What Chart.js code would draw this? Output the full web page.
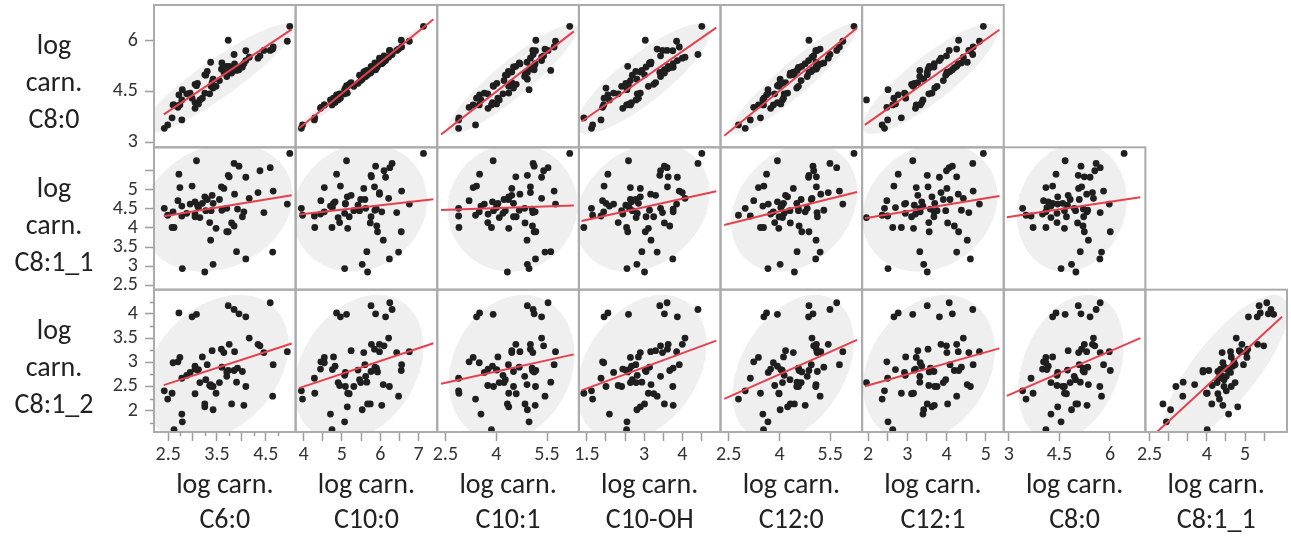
<!DOCTYPE html>
<html>
<head>
<meta charset="utf-8">
<script src="https://cdn.jsdelivr.net/npm/chart.js@4.4.1/dist/chart.umd.min.js"></script>
<style>
  html, body { margin: 0; padding: 0; background: #fff; }
  #wrap { width: 1291px; height: 544px; }
</style>
</head>
<body>
<div id="wrap"><canvas id="spm" width="1291" height="544"></canvas></div>
<script>
const FONT = 'Carlito, Lato, sans-serif';

// log carnitine values, one entry per sample (same order in every array)
const C8_0   = [6.42,4.67,5.59,5.71,5.14,5.55,4.40,5.06,5.24,5.41, 4.10,4.30,5.07,5.16,5.81,5.31,5.48,4.45,4.76,4.82,
                4.03,4.17,4.30,4.45,4.60,4.74,5.51,5.09,4.94,4.98, 5.21,5.34,5.98,5.71,5.32,4.25,4.13,4.10,3.41,3.51,
                3.66,4.00,4.43,4.65,4.25,4.43,4.71,5.04,5.22,5.20, 5.24,6.01,4.10,3.72,4.65,5.36,5.12,5.75,5.70,4.55,
                4.86,4.99];
const C8_1_1 = [5.94,5.75,5.68,5.57,5.61,5.49,5.40,5.37,5.33,5.32, 5.05,5.09,5.03,5.07,4.96,4.88,4.92,4.81,4.85,4.74,
                4.71,4.68,4.64,4.62,4.64,4.59,4.77,4.74,4.51,4.45, 4.49,4.46,4.62,4.40,4.42,4.57,4.53,4.42,4.51,4.33,
                4.31,4.36,4.38,4.45,4.27,4.14,4.29,4.13,4.29,4.05, 3.90,3.90,4.01,4.01,3.99,3.68,3.38,3.37,3.19,2.94,
                3.05,2.85];
const C8_1_2 = [null,3.99,4.09,4.23,4.00,3.34,4.02,4.17,3.37,3.94, 3.10,3.94,3.20,3.27,2.95,3.22,3.37,2.08,3.24,2.58,
                3.01,2.92,3.11,2.79,2.50,2.84,3.50,2.95,2.71,2.64, 2.88,2.90,3.22,3.20,2.11,1.93,2.85,2.99,2.41,2.24,
                2.67,2.86,2.73,2.50,2.58,2.52,2.35,2.14,2.81,2.83, 2.80,2.83,1.61,2.36,2.36,2.54,2.59,2.30,2.50,1.77,
                2.02,2.14];
const C6_0   = [4.99,3.08,3.85,4.59,3.95,4.38,2.72,3.73,3.75,4.09, 2.74,2.99,3.64,3.59,4.65,3.86,4.34,3.25,3.40,3.55,
                2.70,3.05,3.20,2.95,3.42,3.10,4.16,3.30,3.70,3.27, 3.92,3.60,4.94,4.46,4.05,2.78,3.12,2.60,2.42,2.49,
                2.78,3.05,2.88,3.38,3.15,3.35,3.05,3.80,4.02,3.85, 3.70,3.73,2.62,2.58,3.48,3.37,3.90,4.64,4.09,2.79,
                3.42,3.25];
const C10_0  = [7.13,5.12,6.31,6.25,5.88,6.10,4.86,5.76,5.77,6.14, 4.54,4.96,5.57,5.85,6.56,5.98,5.98,5.14,5.24,5.49,
                4.45,4.82,4.78,5.09,5.09,5.42,6.22,5.60,5.62,5.46, 5.90,5.86,6.76,6.43,6.04,4.70,4.75,4.54,3.94,3.97,
                4.28,4.44,5.07,5.31,4.90,4.94,5.19,5.74,5.76,5.91, 5.93,6.55,4.74,4.29,5.15,6.08,5.65,6.48,6.24,5.07,
                5.53,5.67];
const C10_1  = [6.17,3.91,5.09,5.53,5.12,5.40,3.51,4.92,4.58,5.34, 3.32,3.42,4.46,5.01,5.71,4.70,5.01,4.37,4.46,4.23,
                3.20,3.89,4.05,3.65,4.51,4.02,5.34,4.36,4.84,4.27, 5.06,4.68,5.75,5.08,5.15,3.55,4.01,3.50,2.89,3.39,
                2.89,3.76,4.20,3.92,4.09,3.75,4.59,4.85,4.51,5.07, 5.12,5.17,3.86,2.90,4.37,4.91,5.61,5.44,5.16,4.97,
                4.92,4.33];
const C10_OH = [4.51,2.59,4.41,3.60,3.53,3.43,2.05,3.41,3.63,3.87, 2.64,1.95,2.90,3.61,3.92,3.17,4.00,2.90,3.30,2.64,
                1.91,2.67,2.85,2.20,2.00,2.52,4.07,2.78,3.43,2.69, 3.76,3.14,3.85,3.48,3.76,2.09,2.61,1.94,1.62,1.65,
                1.87,2.44,2.82,2.41,2.79,2.32,3.25,3.53,3.05,3.67, 2.57,3.03,2.54,1.42,3.11,3.18,2.94,3.34,3.75,2.55,
                2.81,3.01];
const C12_0  = [6.20,3.94,5.49,5.69,4.99,5.01,3.62,4.87,5.09,4.86, 3.38,3.54,4.41,5.09,5.77,5.22,5.44,4.24,4.18,4.64,
                3.24,3.94,4.12,3.67,4.51,4.08,4.96,4.94,4.82,4.31, 4.56,5.31,5.87,5.11,4.76,3.51,4.04,3.82,2.99,2.79,
                3.14,3.74,4.14,4.56,4.09,3.86,3.99,4.32,5.12,4.58, 4.66,4.87,3.53,3.44,3.98,5.08,4.52,5.20,5.07,3.66,
                4.02,4.44];
const C12_1  = [4.94,3.14,4.67,4.07,4.15,4.00,2.77,3.51,4.26,3.82, 3.23,2.66,4.01,3.53,4.68,4.30,3.86,3.63,3.27,3.92,
                2.48,3.37,2.96,2.93,3.70,3.18,4.43,4.09,3.32,3.98, 3.59,4.38,4.84,4.57,3.69,3.40,2.70,3.33,2.42,2.36,
                2.50,3.21,2.95,3.76,1.96,3.55,3.11,4.03,3.68,4.20, 3.56,4.31,2.63,2.85,3.16,4.53,3.32,4.26,4.61,2.51,
                3.42,3.51];

const rowVars = ['C8:0', 'C8:1_1', 'C8:1_2'];
const colVars = ['C6:0', 'C10:0', 'C10:1', 'C10-OH', 'C12:0', 'C12:1', 'C8:0', 'C8:1_1'];
const values = {
  'C6:0': C6_0, 'C10:0': C10_0, 'C10:1': C10_1, 'C10-OH': C10_OH, 'C12:0': C12_0,
  'C12:1': C12_1, 'C8:0': C8_0, 'C8:1_1': C8_1_1, 'C8:1_2': C8_1_2
};

// axis ranges
const axisRange = {
  'C6:0': [2.21, 5.11], 'C10:0': [3.79, 7.49], 'C10:1': [2.26, 6.44], 'C10-OH': [1.29, 5.0],
  'C12:0': [2.26, 6.44], 'C12:1': [1.85, 5.46], 'C8:0': [2.85, 7.05], 'C8:1_1': [2.39, 6.1],
  'C8:1_2': [1.56, 4.5]
};
// tick marks per variable
const tickValues = {
  'C6:0': [2.5, 3, 3.5, 4, 4.5], 'C10:0': [4, 4.5, 5, 5.5, 6, 6.5, 7], 'C10:1': [2.5, 4, 5.5],
  'C10-OH': [1.5, 2, 2.5, 3, 3.5, 4, 4.5], 'C12:0': [2.5, 4, 5.5], 'C12:1': [2, 2.5, 3, 3.5, 4, 4.5, 5],
  'C8:0': [3, 4.5, 6], 'C8:1_1': [2.5, 3, 3.5, 4, 4.5, 5, 5.5], 'C8:1_2': [2, 2.5, 3, 3.5, 4]
};
const minorTicks = {
  'C6:0': [2.75, 3.25, 3.75, 4.25, 4.75],
  'C8:1_2': [1.75, 2.25, 2.75, 3.25, 3.75, 4.25]
};
// labelled ticks, bottom axes then left axes
const xTickLabels = [[2.5, 3.5, 4.5], [4, 5, 6, 7], [2.5, 4, 5.5], [1.5, 3, 4], [2.5, 4, 5.5], [2, 3, 4, 5], [3, 4.5, 6], [2.5, 4, 5]];
const yTickLabels = [[3, 4.5, 6], [2.5, 3, 3.5, 4, 4.5, 5], [2, 2.5, 3, 3.5, 4]];
// x extent of the fitted lines
const fitRange = {
  'C6:0': [2.41, 5.03], 'C10:0': [3.88, 7.39], 'C10:1': [2.37, 6.29], 'C10-OH': [1.36, 4.89],
  'C12:0': [2.37, 6.29], 'C12:1': [1.92, 5.35], 'C8:0': [2.94, 6.9], 'C8:1_1': [2.48, 5.97]
};

function hasPanel(r, c) { return c < 6 + r; }

function pairs(xv, yv) {
  const out = [];
  for (let i = 0; i < xv.length; i++) {
    if (xv[i] == null || yv[i] == null) continue;
    out.push({x: xv[i], y: yv[i]});
  }
  return out;
}

function moments(pts) {
  const n = pts.length;
  let mx = 0, my = 0;
  pts.forEach(p => { mx += p.x; my += p.y; });
  mx /= n; my /= n;
  let sxx = 0, syy = 0, sxy = 0;
  pts.forEach(p => {
    sxx += (p.x - mx) * (p.x - mx);
    syy += (p.y - my) * (p.y - my);
    sxy += (p.x - mx) * (p.y - my);
  });
  return {n, mx, my, sxx: sxx / (n - 1), syy: syy / (n - 1), sxy: sxy / (n - 1)};
}

function fitLine(pts, lo, hi) {
  const m = moments(pts);
  const b = m.sxy / m.sxx;
  const a = m.my - b * m.mx;
  return [{x: lo, y: a + b * lo}, {x: hi, y: a + b * hi}];
}

// 95% density ellipse, kept inside the panel
function densityEllipse(pts, xr, yr) {
  const m = moments(pts);
  const k = Math.sqrt(5.991);
  const l11 = Math.sqrt(m.sxx);
  const l21 = m.sxy / l11;
  const l22 = Math.sqrt(Math.max(m.syy - l21 * l21, 0));
  const out = [];
  for (let i = 0; i <= 144; i++) {
    const t = i / 144 * 2 * Math.PI;
    let x = m.mx + k * l11 * Math.cos(t);
    let y = m.my + k * (l21 * Math.cos(t) + l22 * Math.sin(t));
    x = Math.min(Math.max(x, xr[0]), xr[1]);
    y = Math.min(Math.max(y, yr[0]), yr[1]);
    out.push({x, y});
  }
  return out;
}

const datasets = [];
rowVars.forEach((rv, r) => {
  colVars.forEach((cv, c) => {
    if (!hasPanel(r, c)) return;
    const pts = pairs(values[cv], values[rv]);
    const ids = {xAxisID: 'x' + c, yAxisID: 'y' + r};
    datasets.push(Object.assign({
      data: densityEllipse(pts, axisRange[cv], axisRange[rv]),
      showLine: true, fill: 'shape', backgroundColor: '#efefef', borderColor: '#efefef',
      borderWidth: 1, pointRadius: 0, order: 3
    }, ids));
    datasets.push(Object.assign({
      data: pts, pointRadius: 3.4, pointBackgroundColor: '#1f1f1f', pointBorderColor: '#1f1f1f',
      pointBorderWidth: 0, order: 2
    }, ids));
    datasets.push(Object.assign({
      data: fitLine(pts, fitRange[cv][0], fitRange[cv][1]),
      showLine: true, borderColor: '#e5404e', borderWidth: 2, pointRadius: 0, fill: false, order: 1
    }, ids));
  });
});

const tickFont = {family: FONT, size: 20};
const scales = {};
colVars.forEach((v, c) => {
  scales['x' + c] = {
    type: 'linear', position: 'bottom', stack: 'cols',
    min: axisRange[v][0], max: axisRange[v][1],
    afterBuildTicks: s => { s.ticks = tickValues[v].map(t => ({value: t})); },
    afterFit: s => { s.height = 112; s.paddingLeft = 0; s.paddingRight = 0; },
    ticks: {
      autoSkip: false, maxRotation: 0, minRotation: 0, padding: 2, color: '#333', font: tickFont,
      callback: val => xTickLabels[c].includes(val) ? String(val) : ''
    },
    grid: {drawOnChartArea: false, drawTicks: true, tickLength: 9, tickColor: '#9c9c9c', tickWidth: 1.5},
    border: {display: false},
    title: {
      display: true, text: ['log carn.', v], color: '#222',
      font: {family: FONT, size: 28, lineHeight: 1.25}, padding: {top: 0, bottom: 6}
    }
  };
});
rowVars.forEach((v, r) => {
  scales['y' + r] = {
    type: 'linear', position: 'left', stack: 'rows', weight: 3 - r,
    min: axisRange[v][0], max: axisRange[v][1],
    afterBuildTicks: s => { s.ticks = tickValues[v].map(t => ({value: t})); },
    afterFit: s => { s.width = 154; s.paddingTop = 0; s.paddingBottom = 0; },
    ticks: {
      autoSkip: false, padding: 7, color: '#333', font: tickFont,
      callback: val => yTickLabels[r].includes(val) ? String(val) : ''
    },
    grid: {drawOnChartArea: false, drawTicks: true, tickLength: 9, tickColor: '#9c9c9c', tickWidth: 1.5},
    border: {display: false},
    title: {display: false}
  };
});

// panel frames, short minor ticks and the horizontal row titles
const matrixDecor = {
  id: 'matrixDecor',
  afterDatasetsDraw(chart) {
    const ctx = chart.ctx;
    ctx.save();
    ctx.strokeStyle = '#ababab';
    ctx.lineWidth = 2;
    rowVars.forEach((rv, r) => {
      colVars.forEach((cv, c) => {
        if (!hasPanel(r, c)) return;
        const xs = chart.scales['x' + c], ys = chart.scales['y' + r];
        ctx.strokeRect(xs.left, ys.top, xs.right - xs.left, ys.bottom - ys.top);
      });
    });
    ctx.restore();
  },
  afterDraw(chart) {
    const ctx = chart.ctx;
    ctx.save();
    ctx.strokeStyle = '#9c9c9c';
    ctx.lineWidth = 1.5;
    colVars.forEach((v, c) => {
      const xs = chart.scales['x' + c];
      (minorTicks[v] || []).forEach(t => {
        const px = Math.round(xs.getPixelForValue(t)) + 0.5;
        ctx.beginPath(); ctx.moveTo(px, xs.top); ctx.lineTo(px, xs.top + 4); ctx.stroke();
      });
    });
    rowVars.forEach((v, r) => {
      const ys = chart.scales['y' + r];
      (minorTicks[v] || []).forEach(t => {
        const py = Math.round(ys.getPixelForValue(t)) + 0.5;
        ctx.beginPath(); ctx.moveTo(ys.right, py); ctx.lineTo(ys.right - 4, py); ctx.stroke();
      });
      const mid = (ys.top + ys.bottom) / 2 + 8;
      ctx.fillStyle = '#222';
      ctx.font = '28px ' + FONT;
      ctx.textAlign = 'center';
      ctx.textBaseline = 'middle';
      ['log', 'carn.', v].forEach((line, i) => ctx.fillText(line, 54, mid + (i - 1) * 37));
    });
    ctx.restore();
  }
};

new Chart(document.getElementById('spm'), {
  type: 'scatter',
  data: {datasets},
  options: {
    responsive: false,
    animation: false,
    devicePixelRatio: 1,
    events: [],
    layout: {padding: {top: 5, right: 1, left: 0, bottom: 0}},
    elements: {line: {tension: 0}},
    plugins: {legend: {display: false}, tooltip: {enabled: false}},
    scales
  },
  plugins: [matrixDecor]
});
</script>
</body>
</html>
